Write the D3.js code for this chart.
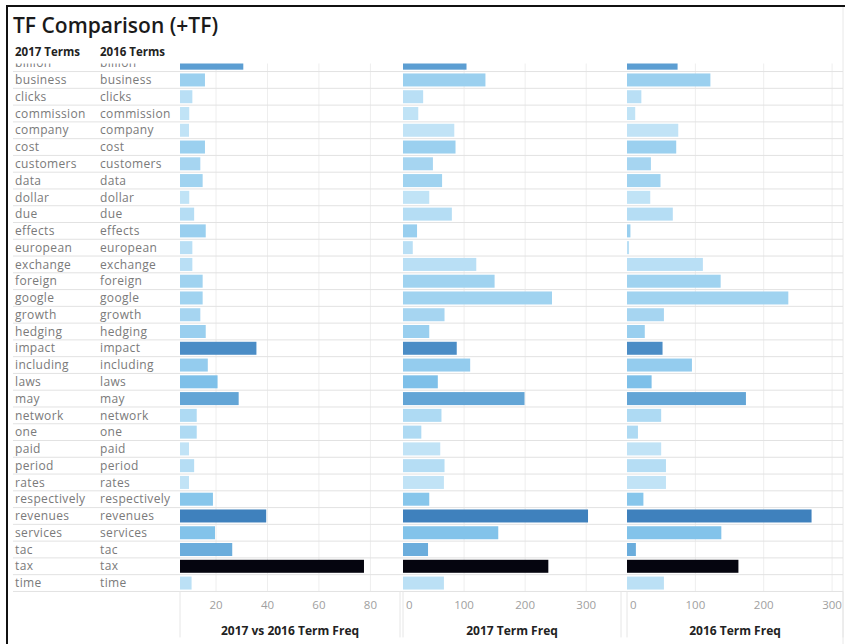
<!DOCTYPE html>
<meta charset="utf-8">
<title>TF Comparison (+TF)</title>
<script src="https://cdn.jsdelivr.net/npm/d3@7"></script>
<style>
body { margin: 0; background: #fff; }
text { font-family: "Open Sans", sans-serif; }
.term { font-size: 12px; fill: #7a7a7a; letter-spacing: 0.35px; }
.tick-lbl { font-size: 11.5px; fill: #a0a0a0; }
.ax-title { font-size: 12px; font-weight: bold; fill: #222; }
</style>
<body>
<div id="chart"></div>
<script>
// terms shown in both label columns (2017 Terms / 2016 Terms)
var terms = ["billion", "business", "clicks", "commission", "company", "cost", "customers", "data",
  "dollar", "due", "effects", "european", "exchange", "foreign", "google", "growth", "hedging",
  "impact", "including", "laws", "may", "network", "one", "paid", "period", "rates",
  "respectively", "revenues", "services", "tac", "tax", "time"];

// 2017 vs 2016 Term Freq
var diffFreq = [30.6, 15.7, 10.8, 9.6, 9.5, 15.7, 13.9, 14.8,
  9.6, 11.5, 16, 10.8, 10.8, 14.8, 14.8, 13.9, 16,
  35.7, 16.8, 20.6, 28.8, 12.5, 12.5, 9.5, 11.5, 9.5,
  18.8, 39.5, 19.6, 26.3, 77.5, 10.5];

// 2017 Term Freq
var freq2017 = [104, 135, 33, 25, 84, 86, 49, 64,
  43, 80, 23, 16, 120, 150, 244, 68, 43,
  88, 110, 57, 199, 63, 30, 61, 68, 67,
  43, 303, 156, 41, 238, 67];

// 2016 Term Freq
var freq2016 = [74, 122, 21, 12, 75, 72, 35, 49,
  34, 67, 5, 3, 111, 137, 236, 54, 26,
  52, 95, 36, 174, 50, 16, 50, 57, 57,
  24, 270, 138, 13, 163, 54];

var highlighted = ["tax"];

var panelTitles = ["2017 vs 2016 Term Freq", "2017 Term Freq", "2016 Term Freq"];
var panelTicks = [[20, 40, 60, 80], [0, 100, 200, 300], [0, 100, 200, 300]];

var W = 846, H = 644;
var rowStep = 16.77, rowTop = 54.8;

var svg = d3.select("#chart").append("svg")
  .attr("width", W).attr("height", H);

// outer frame (only top and left visible in the shot)
svg.append("line").attr("x1", 7).attr("x2", 845).attr("y1", 6).attr("y2", 6)
  .attr("stroke", "#111").attr("stroke-width", 2);
svg.append("line").attr("x1", 7).attr("x2", 7).attr("y1", 5).attr("y2", H)
  .attr("stroke", "#111").attr("stroke-width", 2);
svg.append("line").attr("x1", 843).attr("x2", 843).attr("y1", 7).attr("y2", H)
  .attr("stroke", "#e8e8e8");

svg.append("text")
  .attr("x", 13).attr("y", 33)
  .style("font-size", "21px").style("font-weight", "600").style("fill", "#1a1a1a")
  .text("TF Comparison (+TF)");

svg.append("text").attr("x", 15).attr("y", 56)
  .style("font-size", "11.5px").style("font-weight", "bold").style("fill", "#222")
  .text("2017 Terms");
svg.append("text").attr("x", 100).attr("y", 56)
  .style("font-size", "11.5px").style("font-weight", "bold").style("fill", "#222")
  .text("2016 Terms");

var y = d3.scaleBand()
  .domain(terms)
  .range([rowTop, rowTop + rowStep * terms.length]);

var xs = [
  d3.scaleLinear().domain([6, 91.5]).range([180, 400]),
  d3.scaleLinear().domain([0, 357]).range([403, 621]),
  d3.scaleLinear().domain([0, 316]).range([627, 843])
];
var series = [diffFreq, freq2017, freq2016];

var color = d3.scaleLinear()
  .domain([9, 20, 40])
  .range(["#c4e5f7", "#80c2ea", "#3d7fbc"])
  .clamp(true);

svg.append("clipPath").attr("id", "rows")
  .append("rect").attr("x", 0).attr("y", 63.5).attr("width", W).attr("height", 540);

var rows = svg.append("g").attr("clip-path", "url(#rows)");
var bottom = y.range()[1];

// vertical gridlines
xs.forEach(function(x, p) {
  rows.append("g").selectAll("line")
    .data(panelTicks[p].filter(function(t) { return t > 0; }))
    .enter().append("line")
      .attr("x1", function(d) { return x(d); })
      .attr("x2", function(d) { return x(d); })
      .attr("y1", 63).attr("y2", bottom)
      .attr("stroke", "#eeeeee");
});

// row separators
rows.append("g").selectAll("line")
  .data(terms)
  .enter().append("line")
    .attr("x1", 13).attr("x2", 843)
    .attr("y1", function(d) { return y(d) + y.bandwidth(); })
    .attr("y2", function(d) { return y(d) + y.bandwidth(); })
    .attr("stroke", "#e2e2e2");

// label columns
[15, 100].forEach(function(lx) {
  rows.append("g").selectAll("text")
    .data(terms)
    .enter().append("text")
      .attr("class", "term")
      .attr("x", lx)
      .attr("y", function(d) { return y(d) + y.bandwidth() / 2; })
      .attr("dy", "0.35em")
      .text(function(d) { return d; });
});

// bars
xs.forEach(function(x, p) {
  var vals = series[p];
  rows.append("g").selectAll("rect")
    .data(terms)
    .enter().append("rect")
      .attr("x", x.range()[0])
      .attr("y", function(d) { return y(d) + y.bandwidth() / 2 - 6.5; })
      .attr("height", 13)
      .attr("width", function(d, i) { return x(vals[i]) - x.range()[0]; })
      .attr("fill", function(d, i) {
        return highlighted.indexOf(d) >= 0 ? "#05050f" : color(diffFreq[i]);
      });
});

// axes
xs.forEach(function(x, p) {
  var g = svg.append("g").attr("transform", "translate(0," + bottom + ")");
  g.append("line").attr("x1", x.range()[0]).attr("x2", x.range()[0])
    .attr("y1", 0).attr("y2", 46).attr("stroke", "#e6e6e6");
  g.append("line").attr("x1", x.range()[1]).attr("x2", x.range()[1])
    .attr("y1", 0).attr("y2", 46).attr("stroke", "#e6e6e6");
  g.selectAll(".tick-lbl")
    .data(panelTicks[p])
    .enter().append("text")
      .attr("class", "tick-lbl")
      .attr("x", function(d) { return d === 0 ? x(d) + 3 : x(d); })
      .attr("y", 14)
      .attr("dy", "0.35em")
      .attr("text-anchor", function(d) { return d === 0 ? "start" : "middle"; })
      .text(function(d) { return d; });
  g.append("text")
    .attr("class", "ax-title")
    .attr("x", (x.range()[0] + x.range()[1]) / 2)
    .attr("y", 39)
    .attr("dy", "0.35em")
    .attr("text-anchor", "middle")
    .text(panelTitles[p]);
});
</script>
</body>
